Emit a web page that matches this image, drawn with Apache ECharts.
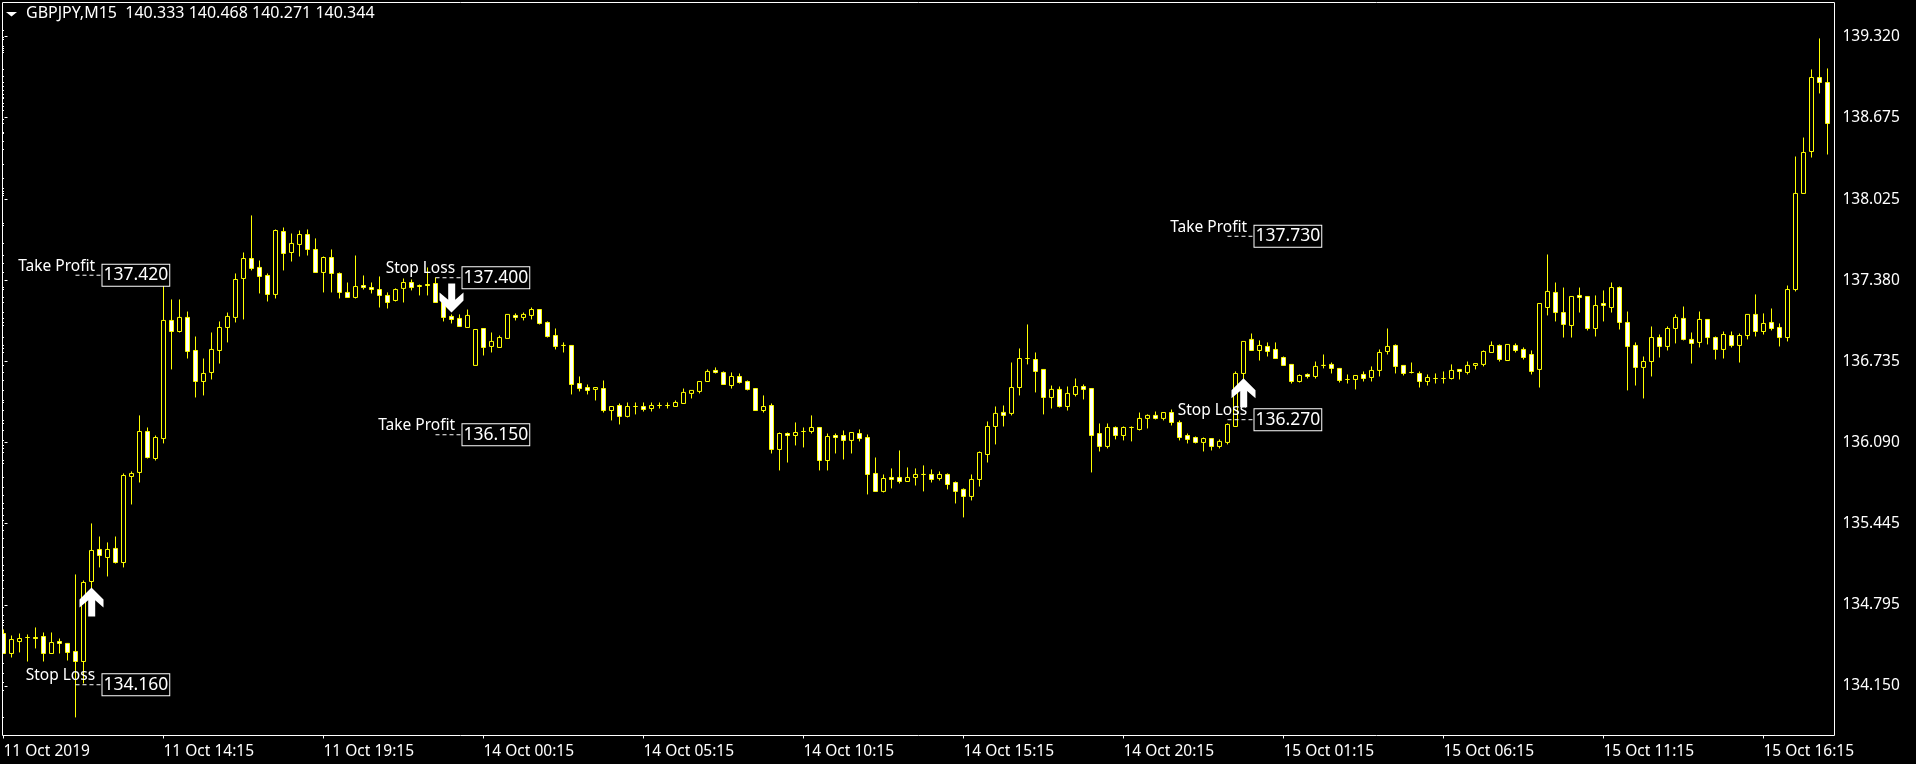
<!DOCTYPE html>
<html>
<head>
<meta charset="utf-8">
<title>GBPJPY,M15</title>
<style>
    html, body { margin: 0; padding: 0; background: #000; }
    #chart { width: 1916px; height: 764px; }
</style>
<script src="https://cdn.jsdelivr.net/npm/echarts@6/dist/echarts.min.js"></script>
</head>
<body>
<div id="chart"></div>
<script>
const headerText = 'GBPJPY,M15  140.333 140.468 140.271 140.344'
const xTickLabels = ['11 Oct 2019','11 Oct 14:15','11 Oct 19:15','14 Oct 00:15','14 Oct 05:15','14 Oct 10:15','14 Oct 15:15','14 Oct 20:15','15 Oct 01:15','15 Oct 06:15','15 Oct 11:15','15 Oct 16:15']
const yTickLabels = ['134.150','134.795','135.445','136.090','136.735','137.380','138.025','138.675','139.320']

const opens = [
    134.568,134.409,134.504,134.536,134.536,134.544,134.409,134.504,134.489,134.425,
    134.345,134.982,135.237,135.173,135.245,135.133,135.818,135.850,136.176,135.961,
    136.120,137.060,136.972,137.084,136.821,136.574,136.646,136.821,137.004,137.084,
    137.394,137.553,137.482,137.418,137.267,137.768,137.601,137.665,137.744,137.625,
    137.442,137.561,137.434,137.283,137.243,137.338,137.322,137.306,137.259,137.219,
    137.315,137.362,137.330,137.346,137.354,137.203,137.092,137.076,137.004,136.702,
    136.996,136.853,136.845,136.917,137.100,137.084,137.100,137.147,137.044,136.940,
    136.861,136.861,136.558,136.526,136.511,136.518,136.343,136.383,136.296,136.375,
    136.375,136.359,136.383,136.383,136.375,136.399,136.479,136.495,136.574,136.662,
    136.646,136.542,136.614,136.574,136.518,136.343,136.383,136.033,136.160,136.144,
    136.176,136.176,136.208,135.945,136.144,136.144,136.105,136.160,136.128,135.842,
    135.699,135.810,135.810,135.778,135.810,135.834,135.834,135.802,135.834,135.770,
    135.715,135.659,135.794,135.993,136.216,136.328,136.320,136.526,136.757,136.749,
    136.670,136.447,136.511,136.375,136.471,136.534,136.518,136.160,136.057,136.208,
    136.144,136.208,136.192,136.280,136.304,136.280,136.327,136.248,136.144,136.128,
    136.089,136.120,136.057,136.089,136.216,136.638,136.909,136.821,136.853,136.829,
    136.765,136.710,136.574,136.630,136.614,136.702,136.710,136.678,136.590,136.590,
    136.630,136.606,136.662,136.813,136.861,136.702,136.646,136.638,136.574,136.598,
    136.598,136.598,136.670,136.646,136.702,136.710,136.805,136.861,136.741,136.861,
    136.829,136.789,136.670,137.163,137.283,137.123,137.020,137.259,137.251,136.996,
    137.195,137.163,137.322,137.044,136.861,136.686,136.733,136.924,136.853,136.996,
    137.076,136.909,136.885,137.068,136.924,136.829,136.940,136.861,136.940,137.108,
    136.972,137.044,137.004,136.924,137.306,138.071,138.405,138.994,138.954
]
const closes = [
    134.409,134.520,134.528,134.536,134.528,134.409,134.496,134.489,134.417,134.345,
    134.974,135.229,135.189,135.237,135.133,135.826,135.842,136.176,135.969,136.128,
    137.060,136.972,137.084,136.813,136.574,136.638,136.829,137.004,137.092,137.386,
    137.553,137.474,137.410,137.267,137.776,137.593,137.673,137.744,137.625,137.442,
    137.561,137.434,137.283,137.243,137.330,137.322,137.306,137.259,137.203,137.306,
    137.362,137.322,137.338,137.338,137.203,137.084,137.068,137.012,137.100,136.988,
    136.845,136.893,136.924,137.108,137.084,137.108,137.147,137.036,136.932,136.853,
    136.861,136.550,136.518,136.503,136.526,136.343,136.375,136.296,136.375,136.375,
    136.351,136.383,136.383,136.383,136.407,136.487,136.503,136.574,136.654,136.646,
    136.550,136.614,136.566,136.511,136.343,136.375,136.033,136.160,136.144,136.168,
    136.176,136.208,135.945,136.136,136.128,136.105,136.168,136.120,135.834,135.699,
    135.802,135.794,135.778,135.810,135.834,135.834,135.794,135.834,135.754,135.699,
    135.659,135.794,136.009,136.216,136.320,136.304,136.526,136.757,136.757,136.654,
    136.447,136.511,136.375,136.479,136.534,136.511,136.144,136.057,136.208,136.144,
    136.208,136.208,136.280,136.304,136.280,136.327,136.248,136.128,136.113,136.089,
    136.120,136.057,136.097,136.232,136.638,136.893,136.821,136.861,136.813,136.757,
    136.702,136.574,136.622,136.614,136.694,136.702,136.678,136.582,136.590,136.622,
    136.598,136.662,136.805,136.853,136.694,136.638,136.646,136.574,136.606,136.598,
    136.598,136.662,136.654,136.702,136.717,136.813,136.861,136.749,136.869,136.821,
    136.765,136.654,137.195,137.291,137.123,137.028,137.251,137.243,136.996,137.179,
    137.179,137.322,137.044,136.853,136.686,136.733,136.924,136.853,136.996,137.084,
    136.909,136.877,137.068,136.924,136.829,136.948,136.861,136.940,137.108,136.972,
    137.036,136.996,136.924,137.306,138.071,138.397,138.994,138.954,138.628
]
const lows = [
    134.409,134.377,134.417,134.345,134.449,134.345,134.409,134.409,134.353,133.900,
    134.170,134.927,135.094,135.022,135.125,135.094,135.595,135.770,135.961,135.945,
    136.081,136.670,136.964,136.757,136.447,136.463,136.590,136.717,136.885,137.044,
    137.068,137.458,137.275,137.211,137.235,137.458,137.529,137.569,137.577,137.442,
    137.283,137.283,137.235,137.243,137.235,137.306,137.275,137.163,137.155,137.211,
    137.203,137.299,137.259,137.259,137.203,137.052,137.036,137.012,137.004,136.702,
    136.781,136.805,136.845,136.917,137.060,137.060,137.068,137.028,136.924,136.829,
    136.805,136.471,136.495,136.471,136.423,136.327,136.264,136.232,136.288,136.312,
    136.335,136.335,136.359,136.359,136.375,136.399,136.439,136.479,136.574,136.638,
    136.550,136.518,136.558,136.503,136.343,136.327,136.001,135.866,135.929,136.065,
    136.049,136.160,135.866,135.866,136.001,135.953,136.001,136.097,135.675,135.699,
    135.691,135.723,135.762,135.778,135.746,135.699,135.770,135.786,135.715,135.603,
    135.492,135.627,135.738,135.929,136.073,136.216,136.304,136.463,136.710,136.487,
    136.312,136.359,136.367,136.343,136.455,136.431,135.850,136.017,136.041,136.113,
    136.105,136.097,136.184,136.200,136.272,136.264,136.224,136.105,136.081,136.081,
    136.017,136.025,136.041,136.073,136.216,136.590,136.821,136.741,136.773,136.757,
    136.702,136.558,136.566,136.598,136.598,136.678,136.638,136.566,136.558,136.511,
    136.574,136.574,136.614,136.789,136.638,136.622,136.638,136.526,136.542,136.558,
    136.558,136.590,136.590,136.630,136.670,136.694,136.805,136.733,136.741,136.805,
    136.749,136.630,136.526,137.100,137.052,136.924,136.924,137.123,136.980,136.932,
    137.052,137.123,136.988,136.503,136.542,136.439,136.614,136.765,136.821,136.877,
    136.901,136.717,136.845,136.869,136.749,136.757,136.845,136.725,136.909,136.932,
    136.948,136.980,136.853,136.893,137.291,138.071,138.357,138.867,138.381
]
const highs = [
    134.600,134.552,134.568,134.560,134.616,134.576,134.576,134.528,134.489,135.038,
    134.990,135.444,135.340,135.293,135.340,135.842,135.858,136.304,136.208,136.144,
    137.354,137.227,137.227,137.131,136.932,136.757,136.964,137.052,137.123,137.434,
    137.601,137.896,137.537,137.434,137.784,137.800,137.752,137.776,137.784,137.713,
    137.569,137.625,137.442,137.362,137.577,137.418,137.362,137.410,137.283,137.315,
    137.394,137.386,137.346,137.482,137.402,137.219,137.108,137.108,137.147,136.988,
    136.996,136.964,136.940,137.108,137.116,137.123,137.163,137.147,137.052,136.996,
    136.885,136.861,136.614,136.550,136.526,136.582,136.375,136.399,136.407,136.407,
    136.407,136.407,136.407,136.407,136.423,136.518,136.503,136.574,136.670,136.686,
    136.654,136.646,136.638,136.582,136.518,136.463,136.399,136.168,136.168,136.248,
    136.208,136.304,136.208,136.160,136.160,136.184,136.168,136.192,136.152,135.969,
    135.834,135.882,136.025,135.890,135.882,135.906,135.874,135.858,135.842,135.778,
    135.723,135.834,136.017,136.256,136.375,136.383,136.725,136.837,137.028,136.805,
    136.670,136.542,136.534,136.534,136.598,136.550,136.518,136.240,136.240,136.216,
    136.216,136.216,136.327,136.312,136.335,136.327,136.351,136.264,136.160,136.136,
    136.128,136.120,136.113,136.240,136.654,136.893,136.956,136.901,136.885,136.885,
    136.773,136.710,136.630,136.638,136.733,136.789,136.725,136.678,136.630,136.622,
    136.654,136.694,136.829,136.996,136.869,136.702,136.725,136.654,136.630,136.638,
    136.654,136.710,136.670,136.733,136.717,136.821,136.893,136.869,136.869,136.877,
    136.845,136.821,137.195,137.585,137.362,137.322,137.251,137.322,137.251,137.259,
    137.299,137.362,137.330,137.131,136.885,136.773,137.012,136.948,137.012,137.108,
    137.171,136.964,137.131,137.068,136.932,136.972,136.972,136.956,137.108,137.267,
    137.116,137.155,137.036,137.338,138.365,138.516,139.058,139.305,139.066
]

// take profit / stop loss objects placed on the chart
const levelNames = ['Take Profit','Stop Loss','Stop Loss','Take Profit','Take Profit','Stop Loss']
const levelPrices = [137.420,134.160,137.400,136.150,137.730,136.270]
const levelBars = [9,9,54,54,153,153]

// signal arrows
const upArrowBars = [11,155]
const upArrowPrices = [134.819,136.484]
const downArrowBars = [56]
const downArrowPrices = [137.239]

// small marks along the left edge of the chart
const edgeMarks = [
    139.368,139.312,139.296,139.241,139.225,139.209,139.193,139.058,139.002,138.954,138.922,138.891,138.859,138.835,138.827,138.787,138.763,
    138.731,138.660,138.628,138.556,138.548,138.485,138.421,138.302,138.190,138.110,138.087,138.071,138.055,137.832,137.816,137.673,
    137.577,137.514,137.442,137.322,137.306,137.243,137.203,137.123,137.076,137.044,137.020,136.924,136.861,136.837,136.805,136.702,136.646,
    136.582,136.503,136.423,136.407,136.343,136.264,136.240,136.184,136.105,136.065,136.041,136.009,135.945,135.921,135.810,135.731,135.667,
    135.603,135.563,135.508,135.468,135.428,135.388,135.325,135.253,135.173,135.110,135.070,135.030,134.990,134.927,134.855,134.775,134.712,
    134.671,134.656,134.632,134.329,134.250,134.178,134.115,133.900
]

const fontName = 'Noto Sans'
const priceMin = 133.756
const priceMax = 139.591
const upArrowPath = 'path://M12 0L24 12L24 20L15.7 12.7L15.7 29L8.7 29L8.7 12.7L0 20L0 12Z'
const downArrowPath = 'path://M12 29L24 17L24 9L15.7 16.3L15.7 0L8.7 0L8.7 16.3L0 9L0 17Z'

let categories = []
for (let i = 0; i <= opens.length; i++) {
    categories.push(i % 20 === 0 ? xTickLabels[i / 20] : '')
}
let candleData = []
for (let i = 0; i < opens.length; i++) {
    candleData.push([opens[i], closes[i], lows[i], highs[i]])
}

let seriesData = [{
    name: 'GBPJPY',
    type: 'candlestick',
    barWidth: 4,
    data: candleData,
    itemStyle: {
        color: '#000000',
        color0: '#ffffff',
        borderColor: '#ffff00',
        borderColor0: '#ffff00',
        borderColorDoji: '#ffff00',
        borderWidth: 1
    }
}, {
    type: 'scatter',
    xAxisIndex: 1,
    clip: false,
    silent: true,
    symbol: 'rect',
    symbolSize: 1,
    itemStyle: { color: '#ffffff', opacity: 1 },
    data: edgeMarks.map(v => [0, v])
}]

for (let i = 0; i < levelNames.length; i++) {
    seriesData.push({
        type: 'line',
        xAxisIndex: 1,
        silent: true,
        symbol: 'none',
        z: 6,
        lineStyle: { color: '#ffffff', width: 1, type: [4, 3] },
        data: [[levelBars[i], levelPrices[i]], [levelBars[i] + 3.375, levelPrices[i]]]
    })
    seriesData.push({
        type: 'scatter',
        xAxisIndex: 1,
        silent: true,
        symbolSize: 0,
        z: 7,
        itemStyle: { opacity: 1 },
        data: [[levelBars[i] + 2.45, levelPrices[i]]],
        label: {
            show: true,
            position: 'left',
            distance: 0,
            offset: [0, -9],
            formatter: levelNames[i],
            color: '#ffffff',
            fontFamily: fontName,
            fontSize: 15.5
        }
    })
    seriesData.push({
        type: 'scatter',
        xAxisIndex: 1,
        silent: true,
        symbolSize: 0,
        z: 8,
        itemStyle: { opacity: 1 },
        data: [[levelBars[i] + 3.375, levelPrices[i]]],
        label: {
            show: true,
            position: 'right',
            distance: 0,
            formatter: levelPrices[i].toFixed(3),
            color: '#ffffff',
            fontFamily: fontName,
            fontSize: 17.5,
            backgroundColor: '#000000',
            borderColor: '#ffffff',
            borderWidth: 1,
            lineHeight: 20,
            padding: [1, 1, 0, 1]
        }
    })
}

seriesData.push({
    type: 'scatter',
    xAxisIndex: 1,
    silent: true,
    symbol: upArrowPath,
    symbolSize: [24, 29],
    z: 9,
    itemStyle: { color: '#ffffff', opacity: 1 },
    data: upArrowBars.map((b, i) => [b, upArrowPrices[i]])
})
seriesData.push({
    type: 'scatter',
    xAxisIndex: 1,
    silent: true,
    symbol: downArrowPath,
    symbolSize: [24, 29],
    z: 9,
    itemStyle: { color: '#ffffff', opacity: 1 },
    data: downArrowBars.map((b, i) => [b, downArrowPrices[i]])
})

let myChart = echarts.init(document.getElementById('chart'), null, { renderer: 'canvas' })
let option = {
    animation: false,
    backgroundColor: '#000000',
    title: {
        text: headerText,
        left: 26,
        top: 5,
        padding: 0,
        textStyle: { color: '#ffffff', fontFamily: fontName, fontSize: 16, fontWeight: 'normal' }
    },
    graphic: [{
        type: 'polygon',
        shape: { points: [[6, 12], [17, 12], [11.5, 16.5]] },
        style: { fill: '#ffffff' }
    }, {
        // first candle is cut off by the frame, hide the part left of it
        type: 'rect',
        z: 100,
        shape: { x: 0, y: 0, width: 2, height: 764 },
        style: { fill: '#000000' }
    }],
    grid: [{
        left: 3.5,
        top: 2.5,
        width: 1832,
        height: 733
    }, {
        // white frame round the plot
        show: true,
        z: 200,
        left: 2.5,
        top: 2.5,
        width: 1832,
        height: 733,
        borderColor: '#ffffff',
        borderWidth: 1,
        backgroundColor: 'transparent'
    }],
    xAxis: [{
        type: 'category',
        gridIndex: 0,
        data: categories,
        boundaryGap: false,
        axisLine: { show: false },
        axisTick: { interval: 19, length: 3, lineStyle: { color: '#ffffff' } },
        splitLine: { show: false },
        axisLabel: {
            interval: 19,
            align: 'left',
            margin: 8,
            color: '#ffffff',
            fontFamily: fontName,
            fontSize: 15.5
        }
    }, {
        type: 'value',
        gridIndex: 0,
        min: 0,
        max: opens.length,
        show: false,
        splitLine: { show: false }
    }],
    yAxis: [{
        type: 'value',
        gridIndex: 0,
        position: 'right',
        offset: -1,
        min: priceMin,
        max: priceMax,
        axisLine: { show: false },
        splitLine: { show: false },
        axisTick: {
            show: true,
            length: 3,
            lineStyle: { color: '#ffffff' },
            customValues: yTickLabels.map(Number)
        },
        axisLabel: {
            margin: 8,
            padding: [2, 0, 0, 0],
            color: '#ffffff',
            fontFamily: fontName,
            fontSize: 15.5,
            customValues: yTickLabels.map(Number),
            formatter: v => v.toFixed(3)
        }
    }],
    series: seriesData
}
myChart.setOption(option)
</script>
</body>
</html>
